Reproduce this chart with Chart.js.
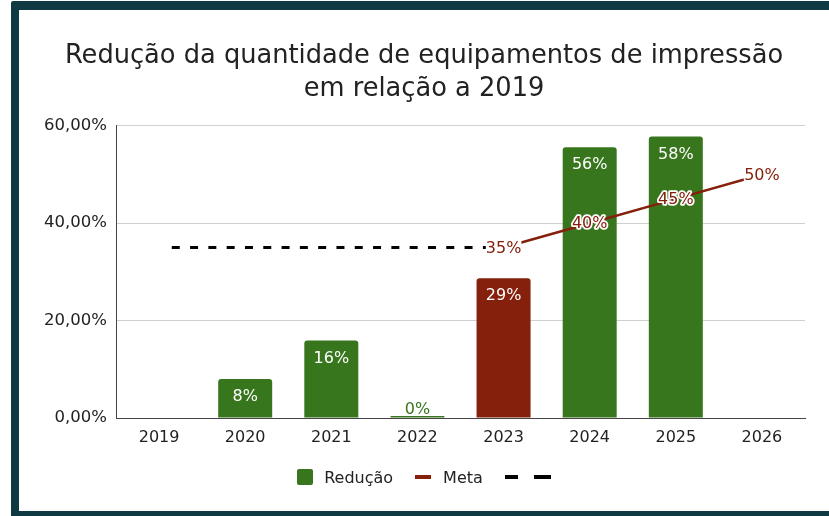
<!DOCTYPE html>
<html>
<head>
<meta charset="utf-8">
<script src="https://cdn.jsdelivr.net/npm/chart.js@4/dist/chart.umd.min.js"></script>
<style>
    body { margin: 0; background: #fff; font-family: "DejaVu Sans", Verdana, sans-serif; }
    #frame {
        position: absolute; left: 11px; top: 1px; width: 810px; height: 501px;
        border-left: 8px solid #0f3a44; border-top: 9px solid #0f3a44; border-bottom: 5px solid #0f3a44;
        border-top-left-radius: 3px; background: #fff;
    }
    #wrap { position: relative; width: 810px; height: 501px; }
    #legend {
        position: absolute; left: 0; top: 459px; width: 810px; height: 16px;
        display: flex; justify-content: center; align-items: center;
        font-size: 16px; color: #222;
    }
    .item { display: flex; align-items: center; }
    .box { width: 16px; height: 16px; border-radius: 2px; margin-right: 11px; }
    .seg { height: 4px; }
</style>
</head>
<body>
<div id="frame">
    <div id="wrap">
        <canvas id="chart" width="810" height="501"></canvas>
        <div id="legend"></div>
    </div>
</div>
<script>
const years = ['2019', '2020', '2021', '2022', '2023', '2024', '2025', '2026'];
const reducao = [null, 8.0, 15.9, 0.4, 28.7, 55.6, 57.8, null];
const meta = [null, null, null, null, 35, 40, 45, 50];
const metaBase = [35, 35, 35, 35, 35, null, null, null];
const yTicks = [0, 20, 40, 60];
const highlightYear = '2023';

const green = '#38761d';
const red = '#85200c';
const font = '"DejaVu Sans", Verdana, sans-serif';

const pct = v => Math.round(v) + '%';

// dash pattern: a leading gap, then 8px dashes
const dash = [0, 12.7];
for (let i = 0; i < 20; i++) dash.push(8, 10.3);

const valueLabels = {
    id: 'valueLabels',
    afterDatasetsDraw(chart) {
        const ctx = chart.ctx;
        ctx.save();
        ctx.font = '16px ' + font;
        ctx.textAlign = 'center';
        ctx.textBaseline = 'middle';

        // bar labels
        chart.getDatasetMeta(0).data.forEach((bar, i) => {
            const v = reducao[i];
            if (v == null) return;
            if (bar.base - bar.y > 30) {
                ctx.fillStyle = '#fff';
                ctx.fillText(pct(v), bar.x, bar.y + 18);
            } else {
                ctx.fillStyle = green;
                ctx.fillText(pct(v), bar.x, bar.y - 6);
            }
        });

        // meta labels
        chart.getDatasetMeta(1).data.forEach((pt, i) => {
            const v = meta[i];
            if (v == null) return;
            const txt = pct(v);
            const w = ctx.measureText(txt).width;
            const onBar = reducao[i] != null && reducao[i] > v;
            if (!onBar) {
                ctx.fillStyle = '#fff';
                ctx.fillRect(pt.x - w / 2, pt.y - 8, w, 16);
            }
            ctx.lineWidth = 3.5;
            ctx.lineJoin = 'round';
            ctx.strokeStyle = '#fff';
            ctx.strokeText(txt, pt.x, pt.y + 1);
            ctx.fillStyle = red;
            ctx.fillText(txt, pt.x, pt.y + 1);
        });
        ctx.restore();
    }
};

const chart = new Chart(document.getElementById('chart'), {
    type: 'bar',
    data: {
        labels: years,
        datasets: [{
            label: 'Redução',
            data: reducao,
            backgroundColor: ctx => years[ctx.dataIndex] === highlightYear ? red : green,
            borderRadius: 3,
            categoryPercentage: 1,
            barPercentage: 0.627,
            order: 3
        }, {
            type: 'line',
            label: 'Meta',
            data: meta,
            borderColor: red,
            borderWidth: 2.5,
            pointRadius: 0,
            fill: false,
            order: 2
        }, {
            type: 'line',
            label: '',
            data: metaBase,
            borderColor: '#000',
            borderWidth: 3,
            borderDash: dash,
            pointRadius: 0,
            fill: false,
            order: 1
        }]
    },
    options: {
        responsive: false,
        animation: false,
        layout: { padding: { left: 12, right: 12, top: 0, bottom: 63 } },
        plugins: {
            legend: { display: false },
            tooltip: { enabled: false },
            title: {
                display: true,
                text: ['Redução da quantidade de equipamentos de impressão', 'em relação a 2019'],
                color: '#222',
                font: { family: font, size: 25.7, weight: 'normal', lineHeight: 1.28 },
                padding: { top: 30, bottom: 20 }
            }
        },
        scales: {
            x: {
                grid: { display: false, drawTicks: false },
                border: { color: '#444', width: 1 },
                ticks: { color: '#222', font: { family: font, size: 16 }, padding: 10 },
                afterFit: s => { s.height = 30; }
            },
            y: {
                min: yTicks[0],
                max: yTicks[yTicks.length - 1],
                afterBuildTicks: s => { s.ticks = yTicks.map(v => ({ value: v })); },
                grid: { color: '#d0d0d0', drawTicks: false },
                border: { color: '#444', width: 1 },
                ticks: {
                    color: '#222', padding: 9,
                    font: { family: font, size: 16.5 },
                    callback: v => v.toFixed(2).replace('.', ',') + '%'
                },
                afterFit: s => { s.width = 85; }
            },
            // empty right axis, only keeps the plot clear of the right edge
            yRight: {
                position: 'right',
                grid: { display: false },
                border: { display: false },
                ticks: { display: false },
                afterFit: s => { s.width = 12; }
            }
        }
    },
    plugins: [valueLabels]
});

// html legend built from the datasets
const legend = document.getElementById('legend');
chart.data.datasets.forEach((ds, i) => {
    const item = document.createElement('div');
    item.className = 'item';
    if (i > 0) item.style.marginLeft = '22px';
    if (ds.type !== 'line') {
        item.innerHTML = `<div class="box" style="background:${green}"></div><span>${ds.label}</span>`;
    } else if (ds.borderDash) {
        item.innerHTML = `<div class="seg" style="width:13px;background:${ds.borderColor}"></div>
            <div class="seg" style="width:17px;margin-left:16px;background:${ds.borderColor}"></div>`;
    } else {
        item.innerHTML = `<div class="seg" style="width:16px;margin-right:12px;background:${ds.borderColor}"></div><span>${ds.label}</span>`;
    }
    legend.appendChild(item);
});
</script>
</body>
</html>
